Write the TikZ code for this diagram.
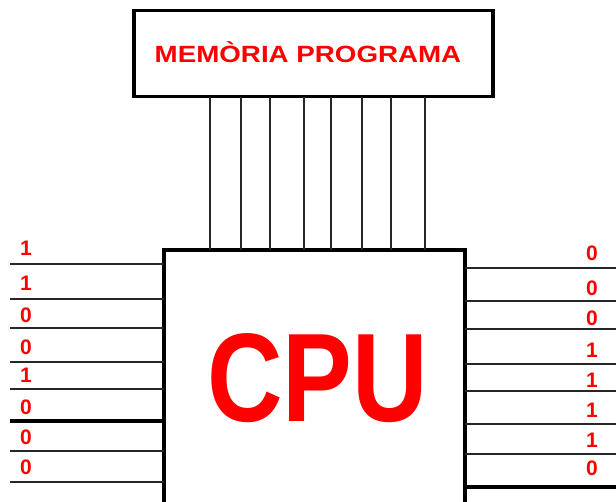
\documentclass[tikz,border=0pt]{standalone}
\usepackage{fontspec}
\setmainfont{Liberation Sans}
\begin{document}
\begin{tikzpicture}[x=1pt,y=-1pt,
  boxst/.style={draw=black,line width=3.5pt,rectangle,inner sep=0pt},
  wire/.style={draw=black!85,line width=2pt},
  thickwire/.style={draw=black,line width=3.5pt},
  bit/.style={text=red,font=\bfseries\fontsize{21}{21}\selectfont,inner sep=0pt,anchor=center}]
\useasboundingbox (0,0) rectangle (616,501);
\node[boxst,minimum width=359,minimum height=86] (mem) at (313.5,53.5) {};
\node[text=red,font=\bfseries\fontsize{23.5}{24}\selectfont,xscale=1.18,inner sep=0pt] (memtxt) at (308,52) {MEMÒRIA PROGRAMA};
% CPU box (bottom edge beyond the picture)
\coordinate (cpuTL) at (164,250);
\coordinate (cpuTR) at (465,250);
\coordinate (cpuBL) at (164,505);
\coordinate (cpuBR) at (465,505);
\draw[line width=3.5pt] (cpuBL) -- (cpuTL) -- (cpuTR) -- (cpuBR);
\node[text=red,font=\bfseries\fontsize{126}{126}\selectfont,xscale=0.83,inner sep=0pt] (cpu) at (317.5,378) {CPU};
% bus lines
\foreach \x [count=\i] in {210,241,270,304,331,362,391,425}{
  \coordinate (bt\i) at (\x,97);
  \coordinate (bb\i) at (\x,250);
  \draw[wire] (bt\i) -- (bb\i);
}
% left inputs
\foreach \y/\b/\ly [count=\i] in {264/1/248,299/1/283,328/0/315,362/0/347,389/1/375,421/0/407,451/0/437,482/0/467}{
  \coordinate (lw\i) at (10,\y);
  \coordinate (le\i) at (164,\y);
  \node[bit] (lb\i) at (26,\ly) {\b};
}
\foreach \i in {1,2,3,4,5,7,8}{\draw[wire] (lw\i) -- (le\i);}
\draw[thickwire] (lw6) -- (le6);
% right outputs
\foreach \y/\b/\ly [count=\i] in {268/0/253,301/0/288,329/0/318,364/1/350,391/1/380,424/1/410,454/1/440,487/0/468}{
  \coordinate (rw\i) at (465,\y);
  \coordinate (re\i) at (616,\y);
  \node[bit] (rb\i) at (592,\ly) {\b};
}
\foreach \i in {1,...,7}{\draw[wire] (rw\i) -- (re\i);}
\draw[thickwire] (rw8) -- (re8);
\end{tikzpicture}
\end{document}
